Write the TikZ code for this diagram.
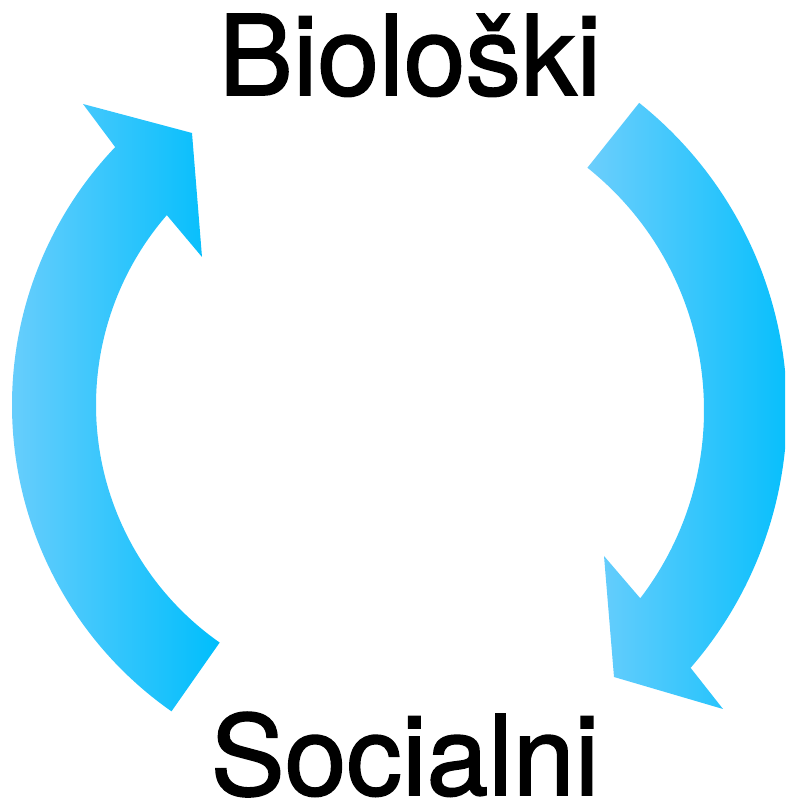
\documentclass[tikz,border=0pt]{standalone}
\usepackage{fontspec}
\setmainfont[FakeBold=1.5,AutoFakeBold=1.5]{TeX Gyre Heros}
\usetikzlibrary{arrows}
\definecolor{lightsky}{RGB}{108,206,252}
\definecolor{deepsky}{RGB}{0,190,252}
\begin{document}
\begin{tikzpicture}[x=1pt,y=1pt]
\tikzstyle{every node}=[inner sep=0pt, font=\fontsize{111}{111}\selectfont\bfseries]
\tikzstyle{bigarrow}=[left color=lightsky, right color=deepsky, draw=none]
\useasboundingbox (0,0) rectangle (785,803);
\clip (0,0) rectangle (785,803);
\draw (410,708) node (bio) [anchor=base] {Biološki};
\draw (405,8) node (soc) [anchor=base] {Socialni};
% left arrow, up towards Biološki
\begin{scope}[shift={(386,398)}]
\path[bigarrow] (235:374) arc[start angle=235, end angle=136.4, radius=374]
  -- (-303,301) -- (-194,272) -- (-184,148)
  -- (139.1:290) arc[start angle=139.1, end angle=235, radius=290] -- cycle;
\end{scope}
% right arrow, down towards Socialni
\begin{scope}[shift={(394,393)}]
\path[bigarrow] (51.4:393) arc[start angle=51.4, end angle=-41, radius=393]
  -- (329,-299) -- (220,-267) -- (210,-146)
  -- (-37.4:310) arc[start angle=-37.4, end angle=51.4, radius=310] -- cycle;
\end{scope}
\end{tikzpicture}
\end{document}
